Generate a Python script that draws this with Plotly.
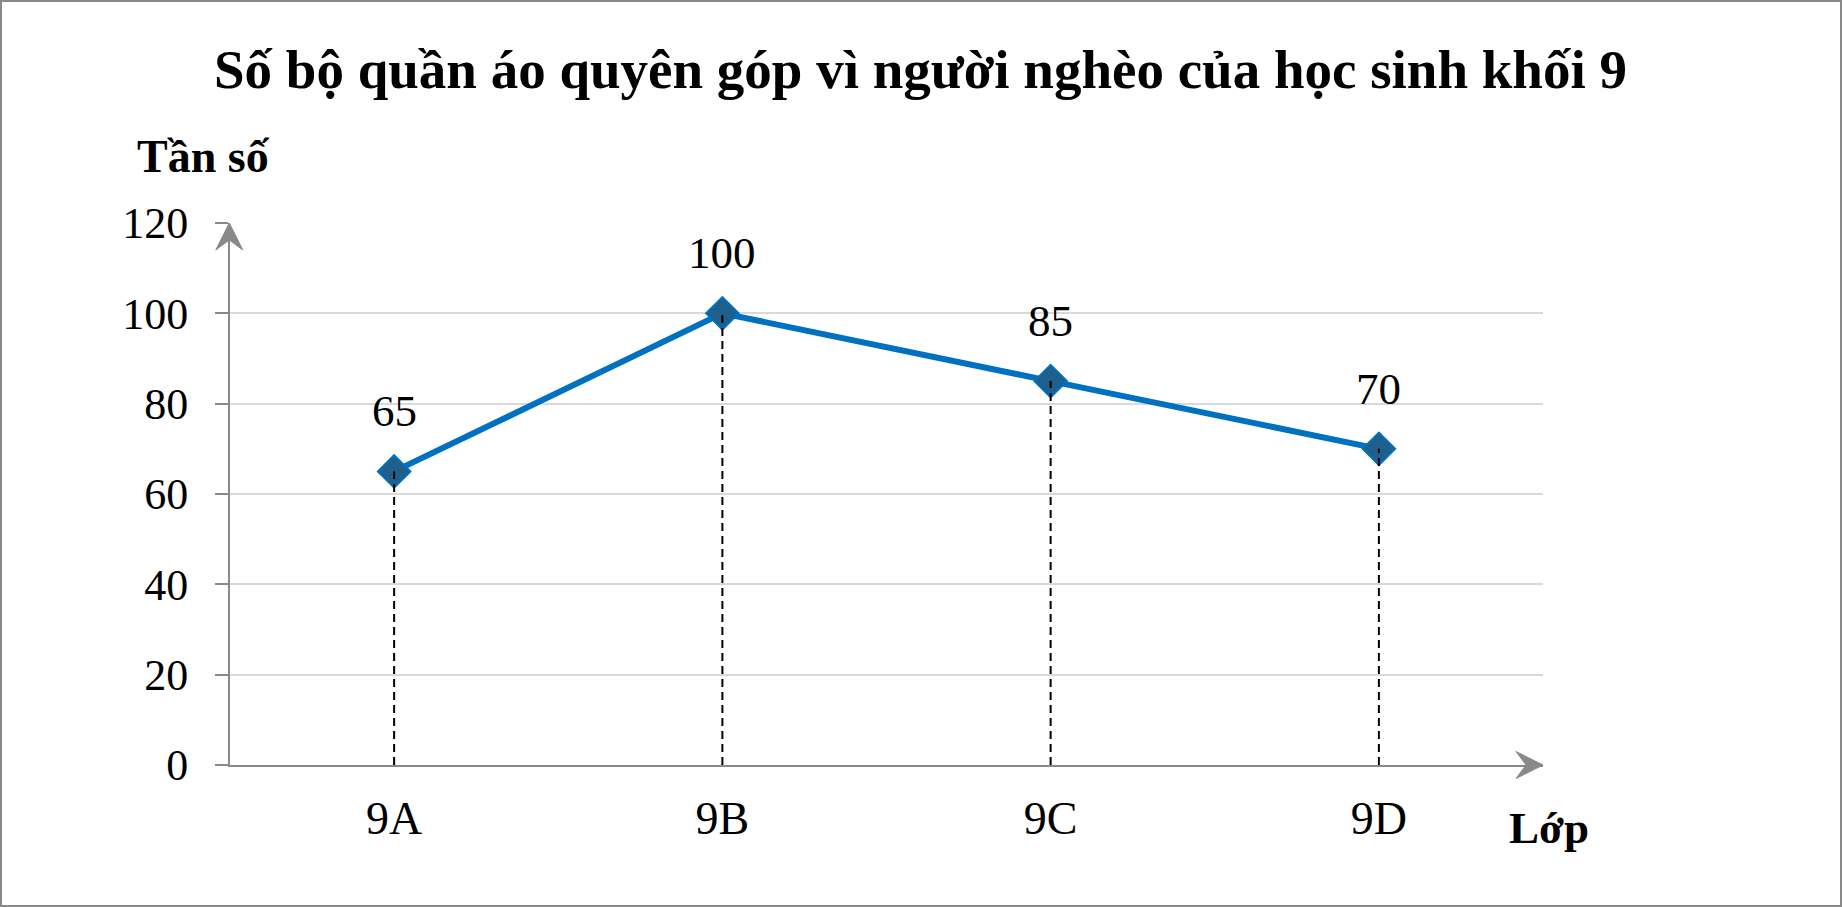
import plotly.graph_objects as go

# ---- data ----
categories = ["9A", "9B", "9C", "9D"]
values = [65, 100, 85, 70]
y_ticks = [0, 20, 40, 60, 80, 100, 120]
title_text = "Số bộ quần áo quyên góp vì người nghèo của học sinh khối 9"
y_title = "Tần số"
x_title = "Lớp"

# ---- layout geometry ----
W, H = 1842, 907
ML, MR, MT, MB = 230, 299, 223, 142
PW = W - ML - MR
PH = H - MT - MB


def px_x(px):
    return (px - ML) / PW


def px_y(py):
    return (H - MB - py) / PH


def path_px(points):
    parts = []
    for i, (px, py) in enumerate(points):
        parts.append(("M" if i == 0 else "L") + f"{px_x(px):.6f},{px_y(py):.6f}")
    return " ".join(parts) + " Z"


FONT = "Liberation Serif, Times New Roman, serif"
AXIS_GRAY = "#898989"

fig = go.Figure()
fig.add_trace(go.Scatter(
    x=categories, y=values, mode="lines+markers",
    line=dict(color="#0070C0", width=6),
    marker=dict(symbol="diamond", size=25, color="#1F5F8B",
                line=dict(color="#0070C0", width=2)),
    hoverinfo="skip", showlegend=False, cliponaxis=False,
))
for c, v in zip(categories, values):
    fig.add_trace(go.Scatter(
        x=[c, c], y=[0, v], mode="lines",
        line=dict(color="black", width=2, dash="8px,5px"),
        hoverinfo="skip", showlegend=False,
    ))

annotations = [
    dict(text=title_text, x=px_x(921), y=px_y(69), xref="paper", yref="paper",
         showarrow=False, xanchor="center", yanchor="middle",
         font=dict(family=FONT, size=55, color="black", weight="bold")),
    dict(text=y_title, x=px_x(203), y=px_y(156), xref="paper", yref="paper",
         showarrow=False, xanchor="center", yanchor="middle",
         font=dict(family=FONT, size=46, color="black", weight="bold")),
    dict(text=x_title, x=px_x(1549), y=px_y(828), xref="paper", yref="paper",
         showarrow=False, xanchor="center", yanchor="middle",
         font=dict(family=FONT, size=45, color="black", weight="bold")),
]
for c, v in zip(categories, values):
    annotations.append(dict(
        text=str(v), x=c, y=v, xref="x", yref="y", yshift=60,
        showarrow=False, xanchor="center", yanchor="middle",
        font=dict(family=FONT, size=45, color="black"),
    ))

# axis arrowheads (pixel geometry -> paper coords)
ax_x = ML - 0.7          # y-axis line x
ax_top = MT              # top of y-axis
ax_bot = H - MB          # x-axis line y
ax_right = W - MR        # right end of x-axis
y_arrow = path_px([(ax_x, ax_top), (ax_x - 13.5, ax_top + 27),
                   (ax_x, ax_top + 17), (ax_x + 13.5, ax_top + 27)])
x_arrow = path_px([(ax_right, ax_bot), (ax_right - 27, ax_bot - 13.5),
                   (ax_right - 17, ax_bot), (ax_right - 27, ax_bot + 13.5)])

shapes = [
    dict(type="rect", xref="paper", yref="paper",
         x0=px_x(1), x1=px_x(W - 1), y0=px_y(H - 1), y1=px_y(1),
         line=dict(color=AXIS_GRAY, width=2), layer="above"),
    dict(type="path", xref="paper", yref="paper", path=y_arrow,
         fillcolor=AXIS_GRAY, line=dict(color=AXIS_GRAY, width=1), layer="above"),
    dict(type="path", xref="paper", yref="paper", path=x_arrow,
         fillcolor=AXIS_GRAY, line=dict(color=AXIS_GRAY, width=1), layer="above"),
]

fig.update_layout(
    width=W, height=H,
    margin=dict(l=ML, r=MR, t=MT, b=MB, autoexpand=False),
    paper_bgcolor="white", plot_bgcolor="white",
    font=dict(family=FONT, size=44, color="black"),
    annotations=annotations,
    shapes=shapes,
    xaxis=dict(type="category", range=[-0.5, 3.5], showline=True,
               linecolor=AXIS_GRAY, linewidth=2, showgrid=False,
               ticks="", zeroline=False, automargin=False,
               tickfont=dict(family=FONT, size=46, color="black"),
               ticklabelstandoff=12),
    yaxis=dict(range=[0, 120], tickvals=y_ticks, showline=True,
               linecolor=AXIS_GRAY, linewidth=2, ticks="outside",
               ticklen=13, tickcolor=AXIS_GRAY, tickwidth=2,
               showgrid=True, gridcolor="#D9D9D9", gridwidth=1.5,
               zeroline=False, automargin=False,
               tickfont=dict(family=FONT, size=44, color="black"),
               ticklabelstandoff=18),
    showlegend=False,
)

fig.write_html("out.html")
